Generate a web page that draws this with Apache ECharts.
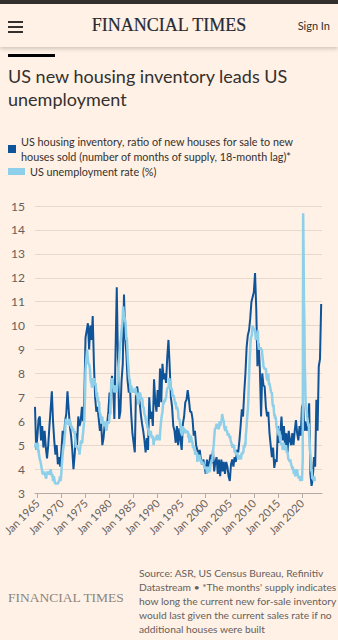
<!DOCTYPE html>
<html>
<head>
<meta charset="utf-8">
<script src="https://cdn.jsdelivr.net/npm/echarts@6/dist/echarts.min.js"></script>
<style>
  html, body { margin: 0; padding: 0; width: 338px; height: 640px; overflow: hidden; background: #fff1e5; color: #33302e; font-family: 'Lato', 'Noto Sans', sans-serif; }
  .topbar { position: absolute; left: 0; top: 0; width: 338px; height: 4px; background: #33302e; }
  .header { position: absolute; left: 0; top: 4px; width: 338px; height: 43px; background: #fff1e5; box-shadow: 0 2px 4px rgba(0,0,0,0.18); }
  .bar { position: absolute; left: 8px; width: 15px; height: 2px; background: #33302e; }
  .logo { position: absolute; left: 0; top: 15px; width: 338px; text-align: center; font-family: 'Liberation Serif', serif; font-size: 18px; line-height: 20px; color: #262a33; -webkit-text-stroke: 0.2px #262a33; }
  .sign { position: absolute; right: 8px; top: 19px; font-size: 11px; line-height: 14px; }
  .rule { position: absolute; left: 8px; top: 54px; width: 47px; height: 3px; background: #000; }
  .title { position: absolute; left: 8px; top: 65px; width: 325px; font-size: 18px; line-height: 23px; }
  .ftlogo { position: absolute; left: 8px; top: 590px; font-family: 'Liberation Serif', serif; font-size: 13.5px; line-height: 16px; color: #8b8580; white-space: nowrap; }
  .source { position: absolute; left: 139px; top: 566px; font-size: 10.25px; line-height: 14px; color: #66605c; white-space: nowrap; }
  #chart { position: absolute; left: 0; top: 0; width: 338px; height: 640px; }
</style>
</head>
<body>
<div class="topbar"></div>
<div class="header"></div>
<div class="bar" style="top:21px"></div>
<div class="bar" style="top:26px"></div>
<div class="bar" style="top:31px"></div>
<div class="logo">FINANCIAL TIMES</div>
<div class="sign">Sign In</div>
<div class="rule"></div>
<div class="title">US new housing inventory leads US unemployment</div>
<div id="chart"></div>
<div class="ftlogo">FINANCIAL TIMES</div>
<div class="source">Source: ASR, US Census Bureau, Refinitiv<br>Datastream • *The months' supply indicates<br>how long the current new for-sale inventory<br>would last given the current sales rate if no<br>additional houses were built</div>
<script>
// Months' supply of new houses, quarterly, plotted 18 months after the month it describes
// (first value: Jan 1963, shown at Jul 1964)
const housingFirstYear = 1963.0;
const housingLagYears = 1.5;
const housingStepYears = 0.25;
const housingSupply = [
  6.6, 4.8,
  5.4, 6.1, 6.2, 5.2,   5.8, 4.9, 5.6, 4.9,   4.45, 5.0, 5.8, 6.5,   7.25, 6.0, 5.2, 4.6,   5.0, 4.2, 4.5, 4.1,
  4.8, 5.6, 5.2, 6.0,   6.3, 7.25, 6.5, 5.8,  5.4, 4.8, 4.0, 4.6,   5.5, 5.0, 6.2, 5.8,    6.0, 6.6, 6.0, 6.9,
  9.5, 9.8, 10.1, 9.0,  10.0, 9.4, 10.4, 8.4, 7.0, 6.4, 6.6, 6.1,   5.6, 5.9, 5.0, 5.3,    5.9, 5.8, 5.9, 6.4,
  7.2, 6.9, 7.9, 7.4,   6.1, 9.0, 11.6, 8.5,  6.1, 6.4, 7.7, 8.4,   11.3, 9.5, 8.8, 7.7,   7.2, 7.4, 6.3, 5.5,
  5.1, 4.7, 7.3, 7.45,  7.0, 6.8, 6.3, 5.9,   5.6, 5.2, 4.7, 5.3,   4.8, 7.0, 6.1, 6.4,    5.8, 7.75, 6.8, 6.4,
  7.3, 6.6, 8.2, 6.8,   8.4, 7.75, 8.0, 7.6,  8.7, 9.4, 8.3, 7.0,   6.6, 5.8, 5.6, 5.1,    5.8, 5.0, 5.7, 5.2,
  4.8, 5.9, 6.2, 6.8,   6.9, 7.3, 6.9, 6.4,   6.4, 6.1, 5.4, 5.6,   5.0, 4.8, 4.6, 4.8,    4.4, 4.2, 4.4, 4.1,
  3.8, 4.4, 4.0, 4.3,   4.6, 4.25, 4.8, 3.9,  4.3, 4.5, 3.8, 4.4,   3.7, 4.4, 3.9, 4.3,    3.8, 4.3, 4.1, 3.7,
  3.5, 4.2, 4.4, 4.1,   4.5, 4.3, 4.8, 4.7,   5.2, 5.8, 6.5, 6.2,   7.2, 8.0, 9.1, 9.6,    9.8, 10.3, 11.0, 11.2,
  11.4, 12.2, 10.7, 8.3, 9.25, 8.2, 6.2, 8.0, 7.5, 7.45, 6.6, 6.2, 6.4, 5.5, 5.0, 4.5,    4.9, 4.05, 4.4, 4.3,
  5.8, 5.1, 5.5, 6.2,   5.2, 5.8, 4.9, 5.5,   4.7, 5.6, 5.2, 5.0,   5.5, 5.0, 5.6, 6.05,   5.5, 5.2, 5.8, 5.4,
  6.6, 6.75, 5.6, 6.0,  5.6, 5.9, 6.75, 3.8,  3.3, 3.6, 4.5, 4.1,   6.9, 5.6, 8.3, 8.6,    10.9
];

// US unemployment rate (%), monthly from Jul 1964
const unemploymentFirstYear = 1964.5;
const unemploymentStepYears = 1 / 12;
const unemploymentRate = [
  4.9, 5.0, 5.1, 5.1, 4.8, 5.0,
  4.9, 5.1, 4.7, 4.8, 4.6, 4.6, 4.4, 4.4, 4.3, 4.2, 4.1, 4.0,
  4.0, 3.8, 3.8, 3.8, 3.9, 3.8, 3.8, 3.8, 3.7, 3.7, 3.6, 3.8,
  3.9, 3.8, 3.8, 3.8, 3.8, 3.9, 3.8, 3.8, 3.8, 4.0, 3.9, 3.8,
  3.7, 3.8, 3.7, 3.5, 3.5, 3.7, 3.7, 3.5, 3.4, 3.4, 3.4, 3.4,
  3.4, 3.4, 3.4, 3.4, 3.4, 3.5, 3.5, 3.5, 3.7, 3.7, 3.5, 3.5,
  3.9, 4.2, 4.4, 4.6, 4.8, 4.9, 5.0, 5.1, 5.4, 5.5, 5.9, 6.1,
  5.9, 5.9, 6.0, 5.9, 5.9, 5.9, 6.0, 6.1, 6.0, 5.8, 6.0, 6.0,
  5.8, 5.7, 5.8, 5.7, 5.7, 5.7, 5.6, 5.6, 5.5, 5.6, 5.3, 5.2,
  4.9, 5.0, 4.9, 5.0, 4.9, 4.9, 4.8, 4.8, 4.8, 4.6, 4.8, 4.9,
  5.1, 5.2, 5.1, 5.1, 5.1, 5.4, 5.5, 5.5, 5.9, 6.0, 6.6, 7.2,
  8.1, 8.1, 8.6, 8.8, 9.0, 8.8, 8.6, 8.4, 8.4, 8.4, 8.3, 8.2,
  7.9, 7.7, 7.6, 7.7, 7.4, 7.6, 7.8, 7.8, 7.6, 7.7, 7.8, 7.8,
  7.5, 7.6, 7.4, 7.2, 7.0, 7.2, 6.9, 7.0, 6.8, 6.8, 6.8, 6.4,
  6.4, 6.3, 6.3, 6.1, 6.0, 5.9, 6.2, 5.9, 6.0, 5.8, 5.9, 6.0,
  5.9, 5.9, 5.8, 5.8, 5.6, 5.7, 5.7, 6.0, 5.9, 6.0, 5.9, 6.0,
  6.3, 6.3, 6.3, 6.9, 7.5, 7.6, 7.8, 7.7, 7.5, 7.5, 7.5, 7.2,
  7.5, 7.4, 7.4, 7.2, 7.5, 7.5, 7.2, 7.4, 7.6, 7.9, 8.3, 8.5,
  8.6, 8.9, 9.0, 9.3, 9.4, 9.6, 9.8, 9.8, 10.1, 10.4, 10.8, 10.8,
  10.4, 10.4, 10.3, 10.2, 10.1, 10.1, 9.4, 9.5, 9.2, 8.8, 8.5, 8.3,
  8.0, 7.8, 7.8, 7.7, 7.4, 7.2, 7.5, 7.5, 7.3, 7.4, 7.2, 7.3,
  7.3, 7.2, 7.2, 7.3, 7.2, 7.4, 7.4, 7.1, 7.1, 7.1, 7.0, 7.0,
  6.7, 7.2, 7.2, 7.1, 7.2, 7.2, 7.0, 6.9, 7.0, 7.0, 6.9, 6.6,
  6.6, 6.6, 6.6, 6.3, 6.3, 6.2, 6.1, 6.0, 5.9, 6.0, 5.8, 5.7,
  5.7, 5.7, 5.7, 5.4, 5.6, 5.4, 5.4, 5.6, 5.4, 5.4, 5.3, 5.3,
  5.4, 5.2, 5.0, 5.2, 5.2, 5.3, 5.2, 5.2, 5.3, 5.3, 5.4, 5.4,
  5.4, 5.3, 5.2, 5.4, 5.4, 5.2, 5.5, 5.7, 5.9, 5.9, 6.2, 6.3,
  6.4, 6.6, 6.8, 6.7, 6.9, 6.9, 6.8, 6.9, 6.9, 7.0, 7.0, 7.3,
  7.3, 7.4, 7.4, 7.4, 7.6, 7.8, 7.7, 7.6, 7.6, 7.3, 7.4, 7.4,
  7.3, 7.1, 7.0, 7.1, 7.1, 7.0, 6.9, 6.8, 6.7, 6.8, 6.6, 6.5,
  6.6, 6.6, 6.5, 6.4, 6.1, 6.1, 6.1, 6.0, 5.9, 5.8, 5.6, 5.5,
  5.6, 5.4, 5.4, 5.8, 5.6, 5.6, 5.7, 5.7, 5.6, 5.5, 5.6, 5.6,
  5.6, 5.5, 5.5, 5.6, 5.6, 5.3, 5.5, 5.1, 5.2, 5.2, 5.4, 5.4,
  5.3, 5.2, 5.2, 5.1, 4.9, 5.0, 4.9, 4.8, 4.9, 4.7, 4.6, 4.7,
  4.6, 4.6, 4.7, 4.3, 4.4, 4.5, 4.5, 4.5, 4.6, 4.5, 4.4, 4.4,
  4.3, 4.4, 4.2, 4.3, 4.2, 4.3, 4.3, 4.2, 4.2, 4.1, 4.1, 4.0,
  4.0, 4.1, 4.0, 3.8, 4.0, 4.0, 4.0, 4.1, 3.9, 3.9, 3.9, 3.9,
  4.2, 4.2, 4.3, 4.4, 4.3, 4.5, 4.6, 4.9, 5.0, 5.3, 5.5, 5.7,
  5.7, 5.7, 5.7, 5.9, 5.8, 5.8, 5.8, 5.7, 5.7, 5.7, 5.9, 6.0,
  5.8, 5.9, 5.9, 6.0, 6.1, 6.3, 6.2, 6.1, 6.1, 6.0, 5.8, 5.7,
  5.7, 5.6, 5.8, 5.6, 5.6, 5.6, 5.5, 5.4, 5.4, 5.5, 5.4, 5.4,
  5.3, 5.4, 5.2, 5.2, 5.1, 5.0, 5.0, 4.9, 5.0, 5.0, 5.0, 4.9,
  4.7, 4.8, 4.7, 4.7, 4.6, 4.6, 4.7, 4.7, 4.5, 4.4, 4.5, 4.4,
  4.6, 4.5, 4.4, 4.5, 4.4, 4.6, 4.7, 4.6, 4.7, 4.7, 4.7, 5.0,
  5.0, 4.9, 5.1, 5.0, 5.4, 5.6, 5.8, 6.1, 6.1, 6.5, 6.8, 7.3,
  7.8, 8.3, 8.7, 9.0, 9.4, 9.5, 9.5, 9.6, 9.8, 10.0, 9.9, 9.9,
  9.8, 9.8, 9.9, 9.9, 9.6, 9.4, 9.4, 9.5, 9.5, 9.4, 9.8, 9.3,
  9.1, 9.0, 9.0, 9.1, 9.0, 9.1, 9.0, 9.0, 9.0, 8.8, 8.6, 8.5,
  8.3, 8.3, 8.2, 8.2, 8.2, 8.2, 8.2, 8.0, 7.8, 7.8, 7.7, 7.9,
  8.0, 7.7, 7.5, 7.6, 7.5, 7.5, 7.3, 7.2, 7.2, 7.2, 6.9, 6.7,
  6.6, 6.7, 6.7, 6.2, 6.3, 6.1, 6.2, 6.1, 5.9, 5.7, 5.8, 5.6,
  5.7, 5.5, 5.4, 5.4, 5.6, 5.3, 5.2, 5.1, 5.0, 5.0, 5.1, 5.0,
  4.8, 4.9, 5.0, 5.1, 4.8, 4.9, 4.8, 4.9, 5.0, 4.9, 4.7, 4.7,
  4.7, 4.6, 4.4, 4.4, 4.4, 4.3, 4.3, 4.4, 4.3, 4.2, 4.2, 4.1,
  4.0, 4.1, 4.0, 4.0, 3.8, 4.0, 3.8, 3.8, 3.7, 3.8, 3.8, 3.9,
  4.0, 3.8, 3.8, 3.7, 3.6, 3.6, 3.7, 3.6, 3.5, 3.6, 3.6, 3.6,
  3.5, 3.5, 4.4, 14.7, 13.2, 11.0, 10.2, 8.4, 7.8, 6.9, 6.7, 6.7,
  6.4, 6.2, 6.1, 6.1, 5.8, 5.9, 5.4, 5.2, 4.8, 4.6, 4.2, 3.9,
  4.0, 3.8, 3.6, 3.6, 3.6, 3.6, 3.5, 3.7, 3.5
];

const yearTicks = [1965, 1970, 1975, 1980, 1985, 1990, 1995, 2000, 2005, 2010, 2015, 2020];
const housingName = 'US housing inventory, ratio of new houses for sale to new\nhouses sold (number of months of supply, 18-month lag)*';
const unemploymentName = 'US unemployment rate (%)';

const housingPoints = housingSupply.map((v, i) => [housingFirstYear + housingLagYears + i * housingStepYears, v]);
const unemploymentPoints = unemploymentRate.map((v, i) => [unemploymentFirstYear + i * unemploymentStepYears, v]);

const chart = echarts.init(document.getElementById('chart'), null, { renderer: 'svg' });
const legendText = { color: '#33302e', fontSize: 10.8, lineHeight: 15, fontFamily: 'Lato, "Noto Sans", sans-serif' };
chart.setOption({
  backgroundColor: 'transparent',
  animation: false,
  legend: [
    { left: 8, top: 134, padding: 0, selectedMode: false, icon: 'rect', itemWidth: 8, itemHeight: 8, textStyle: legendText, data: [housingName] },
    { left: 8, top: 164, padding: 0, selectedMode: false, icon: 'rect', itemWidth: 17, itemHeight: 7, textStyle: legendText, data: [unemploymentName] }
  ],
  grid: { left: 35, right: 16, top: 206, bottom: 147, containLabel: false },
  xAxis: {
    type: 'value', min: 1964.5, max: 2024.17,
    splitLine: { show: false },
    axisLine: { show: true, lineStyle: { color: '#b3aca5', width: 1 } },
    axisTick: { show: true, customValues: yearTicks, length: 5, lineStyle: { color: '#b3aca5' } },
    axisLabel: {
      customValues: yearTicks, rotate: 45, fontSize: 11, color: '#66605c', margin: 8,
      fontFamily: 'Lato, "Noto Sans", sans-serif',
      formatter: v => 'Jan ' + Math.round(v)
    }
  },
  yAxis: {
    type: 'value', min: 3, max: 15, interval: 1,
    axisLine: { show: false }, axisTick: { show: false },
    splitLine: { lineStyle: { color: '#e6d9cc', width: 1 } },
    axisLabel: { fontSize: 12, color: '#66605c', margin: 10, fontFamily: 'Lato, "Noto Sans", sans-serif' }
  },
  series: [
    { name: housingName, type: 'line', data: housingPoints, showSymbol: false, symbol: 'none',
      lineStyle: { color: '#0f5499', width: 2 }, itemStyle: { color: '#0f5499' } },
    { name: unemploymentName, type: 'line', data: unemploymentPoints, showSymbol: false, symbol: 'none',
      lineStyle: { color: '#8ecfea', width: 2.5 }, itemStyle: { color: '#8ecfea' } }
  ]
});
</script>
</body>
</html>
